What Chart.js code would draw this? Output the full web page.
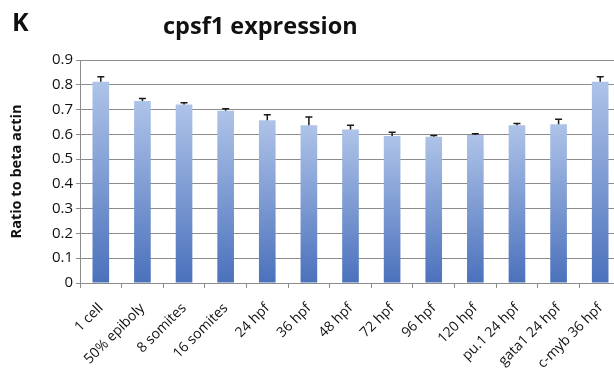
<!DOCTYPE html>
<html lang="en">
<head>
    <meta charset="UTF-8">
    <title>cpsf1 expression</title>
    <script src="https://cdn.jsdelivr.net/npm/chart.js"></script>
    <style>
        body {
            margin: 0;
            padding: 0;
            background: #ffffff;
            width: 614px;
            height: 379px;
            overflow: hidden;
            position: relative;
            font-family: 'Open Sans', sans-serif;
        }
        #wrap {
            position: absolute;
            left: 0;
            top: 0;
            width: 625px;
            height: 379px;
        }
        .panel {
            position: absolute;
            left: 12px;
            top: 4px;
            font-size: 25px;
            font-weight: bold;
            color: #111;
        }
        .title {
            position: absolute;
            left: 163px;
            top: 9px;
            font-size: 23.5px;
            font-weight: bold;
            color: #111;
            white-space: nowrap;
        }
    </style>
</head>
<body>
    <div id="wrap"><canvas id="bar-chart"></canvas></div>
    <div class="panel">K</div>
    <div class="title">cpsf1 expression</div>

    <script>
        // data
        const stages = ["1 cell", "50% epiboly", "8 somites", "16 somites", "24 hpf", "36 hpf",
            "48 hpf", "72 hpf", "96 hpf", "120 hpf", "pu.1 24 hpf", "gata1 24 hpf", "c-myb 36 hpf"];
        const ratios = [0.812, 0.735, 0.72, 0.695, 0.657, 0.637, 0.62, 0.593, 0.59, 0.597, 0.637, 0.641, 0.812];
        const errors = [0.02, 0.01, 0.007, 0.008, 0.022, 0.033, 0.017, 0.015, 0.005, 0.005, 0.007, 0.02, 0.02];
        const yTicks = [0, 0.1, 0.2, 0.3, 0.4, 0.5, 0.6, 0.7, 0.8, 0.9];

        // upper error whiskers
        const errorBars = {
            id: "errorBars",
            afterDatasetsDraw(chart) {
                const c = chart.ctx;
                const y = chart.scales.y;
                const meta = chart.getDatasetMeta(0);
                c.save();
                c.strokeStyle = "#1a1a1a";
                c.lineWidth = 1.5;
                meta.data.forEach((bar, i) => {
                    const top = y.getPixelForValue(ratios[i]);
                    const end = y.getPixelForValue(ratios[i] + errors[i]);
                    c.beginPath();
                    c.moveTo(bar.x, top);
                    c.lineTo(bar.x, end);
                    c.moveTo(bar.x - 3.5, end);
                    c.lineTo(bar.x + 3.5, end);
                    c.stroke();
                });
                c.restore();
            }
        };

        const canvas = document.getElementById("bar-chart");
        canvas.width = 625;
        canvas.height = 379;

        new Chart(canvas.getContext("2d"), {
            type: "bar",
            data: {
                labels: stages,
                datasets: [{
                    data: ratios,
                    backgroundColor: ctx => {
                        const chart = ctx.chart;
                        const area = chart.chartArea;
                        if (!area || !chart.scales.y) return "#7b98d2";
                        const top = chart.scales.y.getPixelForValue(ctx.raw);
                        const g = chart.ctx.createLinearGradient(0, top, 0, area.bottom);
                        g.addColorStop(0, "#aec3e8");
                        g.addColorStop(1, "#4b71bc");
                        return g;
                    },
                    borderWidth: 0,
                    barPercentage: 0.4,
                    categoryPercentage: 1.0
                }]
            },
            options: {
                responsive: false,
                animation: false,
                layout: { padding: { top: 60, right: 4, left: 0, bottom: 0 } },
                plugins: {
                    legend: { display: false },
                    tooltip: { enabled: false }
                },
                scales: {
                    x: {
                        grid: {
                            display: true,
                            drawOnChartArea: false,
                            color: "#8c8c8c",
                            tickLength: 5,
                            offset: true
                        },
                        border: { color: "#8c8c8c" },
                        ticks: {
                            maxRotation: 45,
                            minRotation: 45,
                            autoSkip: false,
                            color: "#111",
                            font: { family: "Open Sans", size: 14 },
                            padding: 12
                        },
                        afterFit: scale => { scale.height = 96; }
                    },
                    y: {
                        min: 0,
                        max: 0.9,
                        afterBuildTicks: scale => { scale.ticks = yTicks.map(v => ({ value: v })); },
                        grid: {
                            color: "#8c8c8c",
                            tickLength: 4
                        },
                        border: { color: "#8c8c8c" },
                        ticks: {
                            color: "#111",
                            font: { family: "Open Sans", size: 15 },
                            padding: 3,
                            callback: v => String(Math.round(v * 10) / 10)
                        },
                        title: {
                            display: true,
                            text: "Ratio to beta actin",
                            color: "#111",
                            font: { family: "Open Sans", size: 14.5, weight: "bold" },
                            padding: { top: 8, bottom: 4 }
                        },
                        afterFit: scale => { scale.width = 80; }
                    }
                }
            },
            plugins: [errorBars]
        });
    </script>
</body>
</html>
